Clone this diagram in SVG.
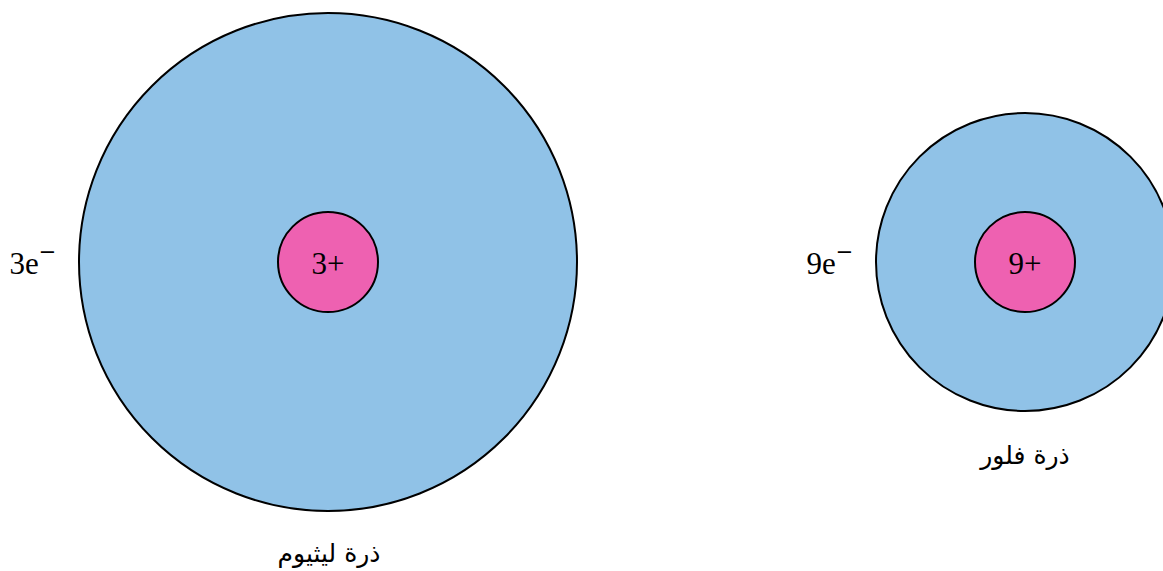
<svg xmlns="http://www.w3.org/2000/svg" width="1163" height="571" viewBox="0 0 1163 571">
<style>
.shell{fill:#90c2e7;stroke:#000;stroke-width:2}
.nuc{fill:#ee61b1;stroke:#000;stroke-width:2}
text{font-family:"Liberation Serif","DejaVu Serif",serif;font-size:31px;fill:#000;text-anchor:middle;dominant-baseline:central}
.lbl{font-family:"DejaVu Sans","Noto Sans",sans-serif;font-size:25px}
.sup{font-family:"DejaVu Sans",sans-serif;font-size:21px}
</style>
<rect width="1163" height="571" fill="#fff"/>
<g id="lithium">
<circle class="shell" cx="328" cy="262" r="249"/>
<circle class="nuc" cx="328" cy="262" r="50"/>
<text x="328" y="263">3+</text>
<text x="33" y="263">3e<tspan class="sup" dy="-11">−</tspan></text>
<text class="lbl" x="329" y="553" direction="rtl">ذرة ليثيوم</text>
</g>
<g id="fluorine">
<circle class="shell" cx="1025" cy="262" r="149"/>
<circle class="nuc" cx="1025" cy="262" r="50"/>
<text x="1025" y="263">9+</text>
<text x="830" y="263">9e<tspan class="sup" dy="-11">−</tspan></text>
<text class="lbl" x="1025" y="455" direction="rtl">ذرة فلور</text>
</g>
<g id="connectors"/>
</svg>
